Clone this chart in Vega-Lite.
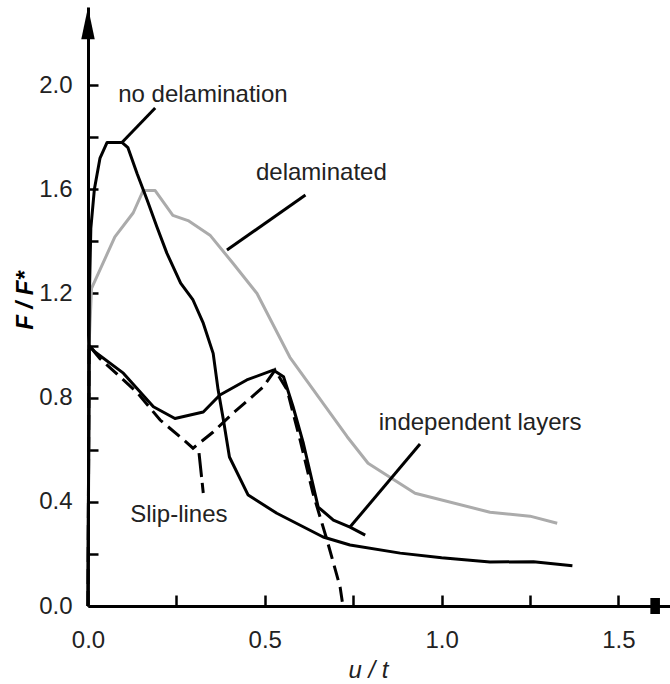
{
  "$schema": "https://vega.github.io/schema/vega-lite/v6.json",
  "width": 582,
  "height": 599,
  "autosize": "none",
  "padding": {"left": 88, "top": 7, "right": 0, "bottom": 78},
  "background": "white",
  "config": {"view": {"stroke": null}, "font": "Liberation Sans"},
  "datasets": {
    "curves": [
      {"series": "no delamination", "i": 0, "x": 0, "y": 0},
      {"series": "no delamination", "i": 1, "x": 0.004, "y": 1.2},
      {"series": "no delamination", "i": 2, "x": 0.008, "y": 1.45},
      {"series": "no delamination", "i": 3, "x": 0.018, "y": 1.6},
      {"series": "no delamination", "i": 4, "x": 0.034, "y": 1.72},
      {"series": "no delamination", "i": 5, "x": 0.054, "y": 1.78},
      {"series": "no delamination", "i": 6, "x": 0.096, "y": 1.78},
      {"series": "no delamination", "i": 7, "x": 0.113, "y": 1.76},
      {"series": "no delamination", "i": 8, "x": 0.139, "y": 1.66},
      {"series": "no delamination", "i": 9, "x": 0.167, "y": 1.56},
      {"series": "no delamination", "i": 10, "x": 0.195, "y": 1.455},
      {"series": "no delamination", "i": 11, "x": 0.223, "y": 1.355},
      {"series": "no delamination", "i": 12, "x": 0.262, "y": 1.24},
      {"series": "no delamination", "i": 13, "x": 0.297, "y": 1.175},
      {"series": "no delamination", "i": 14, "x": 0.326, "y": 1.086},
      {"series": "no delamination", "i": 15, "x": 0.354, "y": 0.97},
      {"series": "no delamination", "i": 16, "x": 0.368, "y": 0.83},
      {"series": "no delamination", "i": 17, "x": 0.383, "y": 0.714},
      {"series": "no delamination", "i": 18, "x": 0.4, "y": 0.572},
      {"series": "no delamination", "i": 19, "x": 0.453, "y": 0.426},
      {"series": "no delamination", "i": 20, "x": 0.534, "y": 0.356},
      {"series": "no delamination", "i": 21, "x": 0.665, "y": 0.265},
      {"series": "no delamination", "i": 22, "x": 0.741, "y": 0.234},
      {"series": "no delamination", "i": 23, "x": 0.883, "y": 0.203},
      {"series": "no delamination", "i": 24, "x": 1.0, "y": 0.185},
      {"series": "no delamination", "i": 25, "x": 1.137, "y": 0.169},
      {"series": "no delamination", "i": 26, "x": 1.26, "y": 0.17},
      {"series": "no delamination", "i": 27, "x": 1.37, "y": 0.155},

      {"series": "delaminated", "i": 0, "x": 0, "y": 0},
      {"series": "delaminated", "i": 1, "x": 0.003, "y": 1.0},
      {"series": "delaminated", "i": 2, "x": 0.01, "y": 1.22},
      {"series": "delaminated", "i": 3, "x": 0.076, "y": 1.417},
      {"series": "delaminated", "i": 4, "x": 0.128, "y": 1.51},
      {"series": "delaminated", "i": 5, "x": 0.156, "y": 1.595},
      {"series": "delaminated", "i": 6, "x": 0.19, "y": 1.595},
      {"series": "delaminated", "i": 7, "x": 0.24, "y": 1.5},
      {"series": "delaminated", "i": 8, "x": 0.283, "y": 1.48},
      {"series": "delaminated", "i": 9, "x": 0.345, "y": 1.424},
      {"series": "delaminated", "i": 10, "x": 0.41, "y": 1.316},
      {"series": "delaminated", "i": 11, "x": 0.478, "y": 1.2},
      {"series": "delaminated", "i": 12, "x": 0.571, "y": 0.955},
      {"series": "delaminated", "i": 13, "x": 0.733, "y": 0.65},
      {"series": "delaminated", "i": 14, "x": 0.792, "y": 0.548},
      {"series": "delaminated", "i": 15, "x": 0.925, "y": 0.433},
      {"series": "delaminated", "i": 16, "x": 1.137, "y": 0.36},
      {"series": "delaminated", "i": 17, "x": 1.25, "y": 0.345},
      {"series": "delaminated", "i": 18, "x": 1.327, "y": 0.318},

      {"series": "independent layers", "i": 0, "x": 0, "y": 0},
      {"series": "independent layers", "i": 1, "x": 0.003, "y": 1.0},
      {"series": "independent layers", "i": 2, "x": 0.02, "y": 0.975},
      {"series": "independent layers", "i": 3, "x": 0.1, "y": 0.894},
      {"series": "independent layers", "i": 4, "x": 0.185, "y": 0.765},
      {"series": "independent layers", "i": 5, "x": 0.246, "y": 0.72},
      {"series": "independent layers", "i": 6, "x": 0.326, "y": 0.745},
      {"series": "independent layers", "i": 7, "x": 0.373, "y": 0.81},
      {"series": "independent layers", "i": 8, "x": 0.449, "y": 0.868},
      {"series": "independent layers", "i": 9, "x": 0.524, "y": 0.906},
      {"series": "independent layers", "i": 10, "x": 0.553, "y": 0.88},
      {"series": "independent layers", "i": 11, "x": 0.58, "y": 0.765},
      {"series": "independent layers", "i": 12, "x": 0.609, "y": 0.625},
      {"series": "independent layers", "i": 13, "x": 0.651, "y": 0.38},
      {"series": "independent layers", "i": 14, "x": 0.694, "y": 0.33},
      {"series": "independent layers", "i": 15, "x": 0.741, "y": 0.303},
      {"series": "independent layers", "i": 16, "x": 0.784, "y": 0.272},

      {"series": "Slip-lines", "i": 0, "x": 0, "y": 0},
      {"series": "Slip-lines", "i": 1, "x": 0.003, "y": 1.0},
      {"series": "Slip-lines", "i": 2, "x": 0.034, "y": 0.95},
      {"series": "Slip-lines", "i": 3, "x": 0.139, "y": 0.82},
      {"series": "Slip-lines", "i": 4, "x": 0.204, "y": 0.714},
      {"series": "Slip-lines", "i": 5, "x": 0.26, "y": 0.65},
      {"series": "Slip-lines", "i": 6, "x": 0.297, "y": 0.606},
      {"series": "Slip-lines", "i": 7, "x": 0.354, "y": 0.668},
      {"series": "Slip-lines", "i": 8, "x": 0.41, "y": 0.74},
      {"series": "Slip-lines", "i": 9, "x": 0.495, "y": 0.84},
      {"series": "Slip-lines", "i": 10, "x": 0.529, "y": 0.906},
      {"series": "Slip-lines", "i": 11, "x": 0.563, "y": 0.83},
      {"series": "Slip-lines", "i": 12, "x": 0.6, "y": 0.637},
      {"series": "Slip-lines", "i": 13, "x": 0.636, "y": 0.434},
      {"series": "Slip-lines", "i": 14, "x": 0.676, "y": 0.253},
      {"series": "Slip-lines", "i": 15, "x": 0.713, "y": 0.073},
      {"series": "Slip-lines", "i": 16, "x": 0.721, "y": 0}
    ],
    "leaders": [
      {"label": "no delamination", "x": 0.19, "y": 1.912, "x2": 0.096, "y2": 1.78},
      {"label": "delaminated", "x": 0.615, "y": 1.578, "x2": 0.393, "y2": 1.367},
      {"label": "independent layers", "x": 0.939, "y": 0.622, "x2": 0.741, "y2": 0.303}
    ],
    "slipleader": [
      {"label": "Slip-lines", "x": 0.314, "y": 0.587, "x2": 0.326, "y2": 0.434}
    ],
    "labels": [
      {"text": "no delamination", "x": 0.325, "y": 1.935},
      {"text": "delaminated", "x": 0.66, "y": 1.635},
      {"text": "independent layers", "x": 1.109, "y": 0.676},
      {"text": "Slip-lines", "x": 0.257, "y": 0.322}
    ],
    "arrows": [
      {"dir": "up", "x": 0, "y": 2.238},
      {"dir": "right", "x": 1.604, "y": 0}
    ]
  },
  "layer": [
    {
      "data": {"name": "curves"},
      "transform": [{"filter": "datum.series === 'delaminated'"}],
      "mark": {"type": "line", "stroke": "#ababab", "strokeWidth": 3, "strokeJoin": "round"},
      "encoding": {
        "x": {
          "field": "x", "type": "quantitative",
          "scale": {"domain": [0, 1.646], "nice": false, "zero": false},
          "axis": {
            "values": [0, 0.25, 0.5, 0.75, 1.0, 1.25, 1.5],
            "labelExpr": "(round(datum.value*100) % 50 == 0) ? format(datum.value, '.1f') : ''",
            "grid": false,
            "domainColor": "black", "domainWidth": 3,
            "tickColor": "black", "tickWidth": 2.5, "tickSize": -11,
            "labelPadding": 33, "labelFontSize": 24, "labelColor": "#222",
            "labelFont": "Liberation Sans", "labelFlush": false, "labelOverlap": false,
            "title": "u / t", "titleFont": "Liberation Sans", "titleFontSize": 24,
            "titleFontStyle": "italic", "titleFontWeight": "normal", "titleColor": "#222",
            "titleX": 280, "titleY": 71, "titleBaseline": "alphabetic", "titleAlign": "center"
          }
        },
        "y": {
          "field": "y", "type": "quantitative",
          "scale": {"domain": [0, 2.3], "nice": false, "zero": false},
          "axis": {
            "values": [0, 0.2, 0.4, 0.6, 0.8, 1.0, 1.2, 1.4, 1.6, 1.8, 2.0],
            "labelExpr": "(round(datum.value*10) % 4 == 0) ? format(datum.value, '.1f') : ''",
            "grid": false,
            "domainColor": "black", "domainWidth": 3,
            "tickColor": "black", "tickWidth": 2.5, "tickSize": -10,
            "labelPadding": 26, "labelFontSize": 24, "labelColor": "#222",
            "labelFont": "Liberation Sans", "labelFlush": false, "labelOverlap": false,
            "title": "F / F*", "titleFont": "Liberation Sans", "titleFontSize": 24,
            "titleFontStyle": "italic", "titleFontWeight": "bold", "titleColor": "black",
            "titleAngle": -90, "titleX": -63, "titleY": 293,
            "titleAlign": "center", "titleBaseline": "middle"
          }
        },
        "order": {"field": "i", "type": "quantitative"}
      }
    },
    {
      "data": {"name": "curves"},
      "transform": [{"filter": "datum.series === 'no delamination' || datum.series === 'independent layers'"}],
      "mark": {"type": "line", "stroke": "black", "strokeWidth": 3, "strokeJoin": "round"},
      "encoding": {
        "x": {"field": "x", "type": "quantitative"},
        "y": {"field": "y", "type": "quantitative"},
        "detail": {"field": "series"},
        "order": {"field": "i", "type": "quantitative"}
      }
    },
    {
      "data": {"name": "curves"},
      "transform": [{"filter": "datum.series === 'Slip-lines'"}],
      "mark": {"type": "line", "stroke": "black", "strokeWidth": 3, "strokeDash": [15, 7]},
      "encoding": {
        "x": {"field": "x", "type": "quantitative"},
        "y": {"field": "y", "type": "quantitative"},
        "order": {"field": "i", "type": "quantitative"}
      }
    },
    {
      "data": {"name": "leaders"},
      "mark": {"type": "rule", "stroke": "black", "strokeWidth": 3},
      "encoding": {
        "x": {"field": "x", "type": "quantitative"},
        "y": {"field": "y", "type": "quantitative"},
        "x2": {"field": "x2"},
        "y2": {"field": "y2"}
      }
    },
    {
      "data": {"name": "slipleader"},
      "mark": {"type": "rule", "stroke": "black", "strokeWidth": 3, "strokeDash": [24, 6]},
      "encoding": {
        "x": {"field": "x", "type": "quantitative"},
        "y": {"field": "y", "type": "quantitative"},
        "x2": {"field": "x2"},
        "y2": {"field": "y2"}
      }
    },
    {
      "data": {"name": "labels"},
      "mark": {"type": "text", "font": "Liberation Sans", "fontSize": 24, "fill": "#222", "align": "center", "baseline": "alphabetic"},
      "encoding": {
        "x": {"field": "x", "type": "quantitative"},
        "y": {"field": "y", "type": "quantitative"},
        "text": {"field": "text"}
      }
    },
    {
      "data": {"name": "arrows"},
      "transform": [{"filter": "datum.dir === 'up'"}],
      "mark": {"type": "point", "shape": "M0,-1L0.42,1L-0.42,1Z", "size": 1024, "filled": true, "fill": "black", "stroke": null, "opacity": 1},
      "encoding": {
        "x": {"field": "x", "type": "quantitative"},
        "y": {"field": "y", "type": "quantitative"}
      }
    },
    {
      "data": {"name": "arrows"},
      "transform": [{"filter": "datum.dir === 'right'"}],
      "mark": {"type": "point", "shape": "M-0.6,-1L0.6,-1L0.6,1L-0.6,1Z", "size": 256, "filled": true, "fill": "black", "stroke": null, "opacity": 1},
      "encoding": {
        "x": {"field": "x", "type": "quantitative"},
        "y": {"field": "y", "type": "quantitative"}
      }
    }
  ]
}
